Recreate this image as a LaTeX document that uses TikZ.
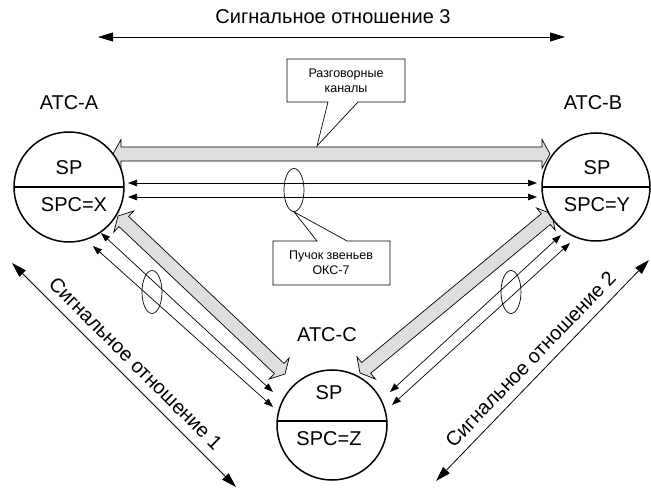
\documentclass[tikz,border=0pt]{standalone}
\usepackage{fontspec}
\setmainfont{Liberation Sans}
\usetikzlibrary{arrows.meta,calc,shapes.geometric}
\definecolor{bandgray}{HTML}{DEDEDE}
\tikzset{
 stn/.style={circle, draw, line width=1.5pt, fill=white, minimum size=110pt, inner sep=0pt, outer sep=0pt},
 lbl/.style={font=\fontsize{20}{24}\selectfont, inner sep=0pt},
 small/.style={font=\fontsize{12.5}{15}\selectfont, align=center, inner sep=0pt},
 sig/.style={line width=0.7pt, {Triangle[length=9pt,width=6.5pt]}-{Triangle[length=9pt,width=6.5pt]}},
 rel/.style={line width=0.8pt, {Triangle[length=15pt,width=9pt]}-{Triangle[length=15pt,width=9pt]}},
 band/.style={draw=black, line width=0.7pt, fill=bandgray, line join=miter},
 bundle/.style={ellipse, draw, line width=0.7pt, minimum width=20pt, minimum height=43pt, inner sep=0pt},
 callout/.style={draw, line width=0.7pt, fill=white},
 divider/.style={line width=1.5pt},
}
\newcommand\bandarrow[2]{%
  \coordinate (bs) at ($(#1)!8pt!(#2)$);
  \coordinate (be) at ($(#2)!8pt!(#1)$);
  \draw[band] (#1) -- ($(bs)!14.5pt!90:(#2)$) -- ($(bs)!7pt!90:(#2)$)
    -- ($(be)!7pt!-90:(#1)$) -- ($(be)!14.5pt!-90:(#1)$) -- (#2)
    -- ($(be)!14.5pt!90:(#1)$) -- ($(be)!7pt!90:(#1)$)
    -- ($(bs)!7pt!-90:(#2)$) -- ($(bs)!14.5pt!-90:(#2)$) -- cycle;}
\begin{document}
\begin{tikzpicture}[x=1pt,y=-1pt]
\useasboundingbox (0,0) rectangle (651,489);

% title and top relation arrow
\node[lbl] (title) at (333,17) {Сигнальное отношение 3};
\coordinate (t1) at (98,37);
\coordinate (t2) at (565,37);
\draw[rel] (t1) -- (t2);

% side relation arrows
\coordinate (r1a) at (12,263);
\coordinate (r1b) at (236,487);
\draw[rel] (r1a) -- (r1b) node[midway, sloped, above=9pt, lbl] (rel1) {Сигнальное отношение 1};
\coordinate (r2a) at (436,481);
\coordinate (r2b) at (649,260);
\draw[rel] (r2a) -- (r2b) node[midway, sloped, above=9pt, lbl] (rel2) {Сигнальное отношение 2};

% speech channel bands
\coordinate (ab1) at (113,154);
\coordinate (ab2) at (550,154);
\coordinate (ac1) at (118,216);
\coordinate (ac2) at (285,374);
\coordinate (bc1) at (552,214);
\coordinate (bc2) at (360,373);
\bandarrow{ab1}{ab2}
\bandarrow{ac1}{ac2}
\bandarrow{bc1}{bc2}

% signalling links
\coordinate (s1a) at (128,183); \coordinate (s1b) at (537,183);
\coordinate (s2a) at (128,197); \coordinate (s2b) at (537,197);
\coordinate (s3a) at (101,233); \coordinate (s3b) at (273,392);
\coordinate (s4a) at (93,246);  \coordinate (s4b) at (273,407);
\coordinate (s5a) at (561,235); \coordinate (s5b) at (390,392);
\coordinate (s6a) at (570,243); \coordinate (s6b) at (392,405);
\draw[sig] (s1a) -- (s1b);
\draw[sig] (s2a) -- (s2b);
\draw[sig] (s3a) -- (s3b);
\draw[sig] (s4a) -- (s4b);
\draw[sig] (s5a) -- (s5b);
\draw[sig] (s6a) -- (s6b);

% bundles
\node[bundle] (e1) at (294,190) {};
\node[bundle] (e2) at (152,292) {};
\node[bundle] (e3) at (511,292) {};

% stations
\node[stn] (A) at (69,187) {};
\draw[divider] (A.west) -- (A.east);
\node[lbl] (Asp) at (69,168) {SP};
\node[lbl] (Aspc) at (74,205) {SPC=X};
\node[lbl] (Aname) at (69,103) {АТС-А};

\node[stn, minimum size=108pt] (B) at (596,187) {};
\draw[divider] (B.west) -- (B.east);
\node[lbl] (Bsp) at (597,168) {SP};
\node[lbl] (Bspc) at (597,205) {SPC=Y};
\node[lbl] (Bname) at (593,103) {АТС-В};

\node[stn] (C) at (332,425) {};
\draw[divider] ($(C.center)+(-54.8,-4)$) -- ($(C.center)+(54.8,-4)$);
\node[lbl] (Csp) at (329,393) {SP};
\node[lbl] (Cspc) at (329,439) {SPC=Z};
\node[lbl] (Cname) at (327,335) {АТС-С};

% callouts
\draw[callout] (287,59) -- (405,59) -- (405,102) -- (358,102) -- (317,146)
  -- (328,102) -- (287,102) -- cycle;
\node[small] (talk) at (346,81) {Разговорные\\каналы};
\draw[callout] (273,241) -- (317,241) -- (e1.south) -- (347,241) -- (390,241)
  -- (390,285) -- (273,285) -- cycle;
\node[small] (okc) at (331,263) {Пучок звеньев\\ОКС-7};
\end{tikzpicture}
\end{document}
